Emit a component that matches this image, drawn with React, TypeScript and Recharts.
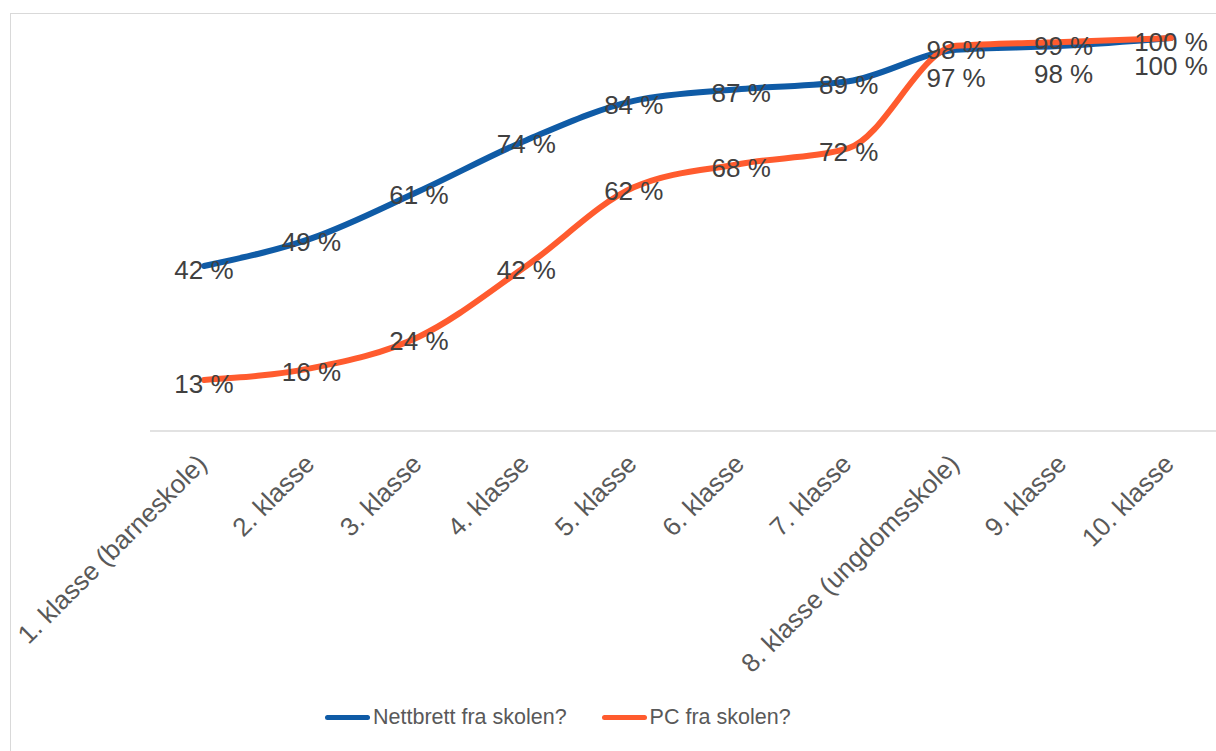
import { LabelList, Line, LineChart, XAxis, YAxis } from 'recharts';

const grades = [
  '1. klasse (barneskole)',
  '2. klasse',
  '3. klasse',
  '4. klasse',
  '5. klasse',
  '6. klasse',
  '7. klasse',
  '8. klasse (ungdomsskole)',
  '9. klasse',
  '10. klasse',
];
const nettbrett = [42, 49, 61, 74, 84, 87, 89, 97, 98, 100];
const pc = [13, 16, 24, 42, 62, 68, 72, 98, 99, 100];

const BLUE = '#0F5BA6';
const ORANGE = '#FF5B2E';

const data = grades.map((grade, i) => ({ grade, nettbrett: nettbrett[i], pc: pc[i] }));

const AxisTick = ({ x, y, payload }: any) => (
  <text
    x={x - 2}
    y={y + 20}
    transform={`rotate(-45 ${x - 2} ${y + 20})`}
    textAnchor="end"
    dy="0.35em"
    fontSize={26}
    fill="#595959"
    fontFamily="Liberation Sans, Arial, sans-serif"
  >
    {payload.value}
  </text>
);

// the blue labels near the top were moved below the line in the original
const makeLabel = (shiftFrom: number) => (props: any) => {
  const { x, y, value, index } = props;
  const dy = index >= shiftFrom ? 28 : 4;
  return (
    <text
      x={x}
      y={y + dy}
      textAnchor="middle"
      dominantBaseline="central"
      fontSize={26}
      fill="#404040"
      fontFamily="Liberation Sans, Arial, sans-serif"
    >
      {`${value} %`}
    </text>
  );
};

const legendItems = [
  { name: 'Nettbrett fra skolen?', color: BLUE },
  { name: 'PC fra skolen?', color: ORANGE },
];

export default function App() {
  return (
    <div
      style={{
        position: 'fixed',
        left: 0,
        top: 0,
        width: 1216,
        height: 751,
        overflow: 'hidden',
        background: '#fff',
        fontFamily: 'Liberation Sans, Arial, sans-serif',
      }}
    >
      <div
        style={{
          position: 'absolute',
          left: 10,
          top: 13,
          width: 1300,
          height: 800,
          borderLeft: '1.5px solid #d9d9d9',
          borderTop: '1.5px solid #d9d9d9',
        }}
      />
      <div style={{ position: 'absolute', left: 0, top: 0 }}>
        <LineChart width={1230} height={751} data={data} margin={{ top: 38, right: 5, left: 150, bottom: 0 }}>
          <XAxis
            dataKey="grade"
            interval={0}
            height={320}
            tickLine={false}
            axisLine={{ stroke: '#d9d9d9', strokeWidth: 1.5 }}
            tick={<AxisTick />}
            padding={{ left: 54, right: 54 }}
          />
          <YAxis hide domain={[0, 100]} />
          <Line
            type="monotone"
            dataKey="nettbrett"
            stroke={BLUE}
            strokeWidth={6}
            strokeLinecap="round"
            dot={false}
            isAnimationActive={false}
          >
            <LabelList dataKey="nettbrett" content={makeLabel(7)} />
          </Line>
          <Line
            type="monotone"
            dataKey="pc"
            stroke={ORANGE}
            strokeWidth={6}
            strokeLinecap="round"
            dot={false}
            isAnimationActive={false}
          >
            <LabelList dataKey="pc" content={makeLabel(99)} />
          </Line>
        </LineChart>
      </div>
      <div
        style={{
          position: 'absolute',
          left: 325,
          top: 705,
          display: 'flex',
          gap: 35,
          fontSize: 21.5,
          color: '#595959',
        }}
      >
        {legendItems.map((item) => (
          <div key={item.name} style={{ display: 'flex', alignItems: 'center' }}>
            <div style={{ width: 45, height: 5, borderRadius: 3, background: item.color, marginRight: 3 }} />
            <span>{item.name}</span>
          </div>
        ))}
      </div>
    </div>
  );
}
